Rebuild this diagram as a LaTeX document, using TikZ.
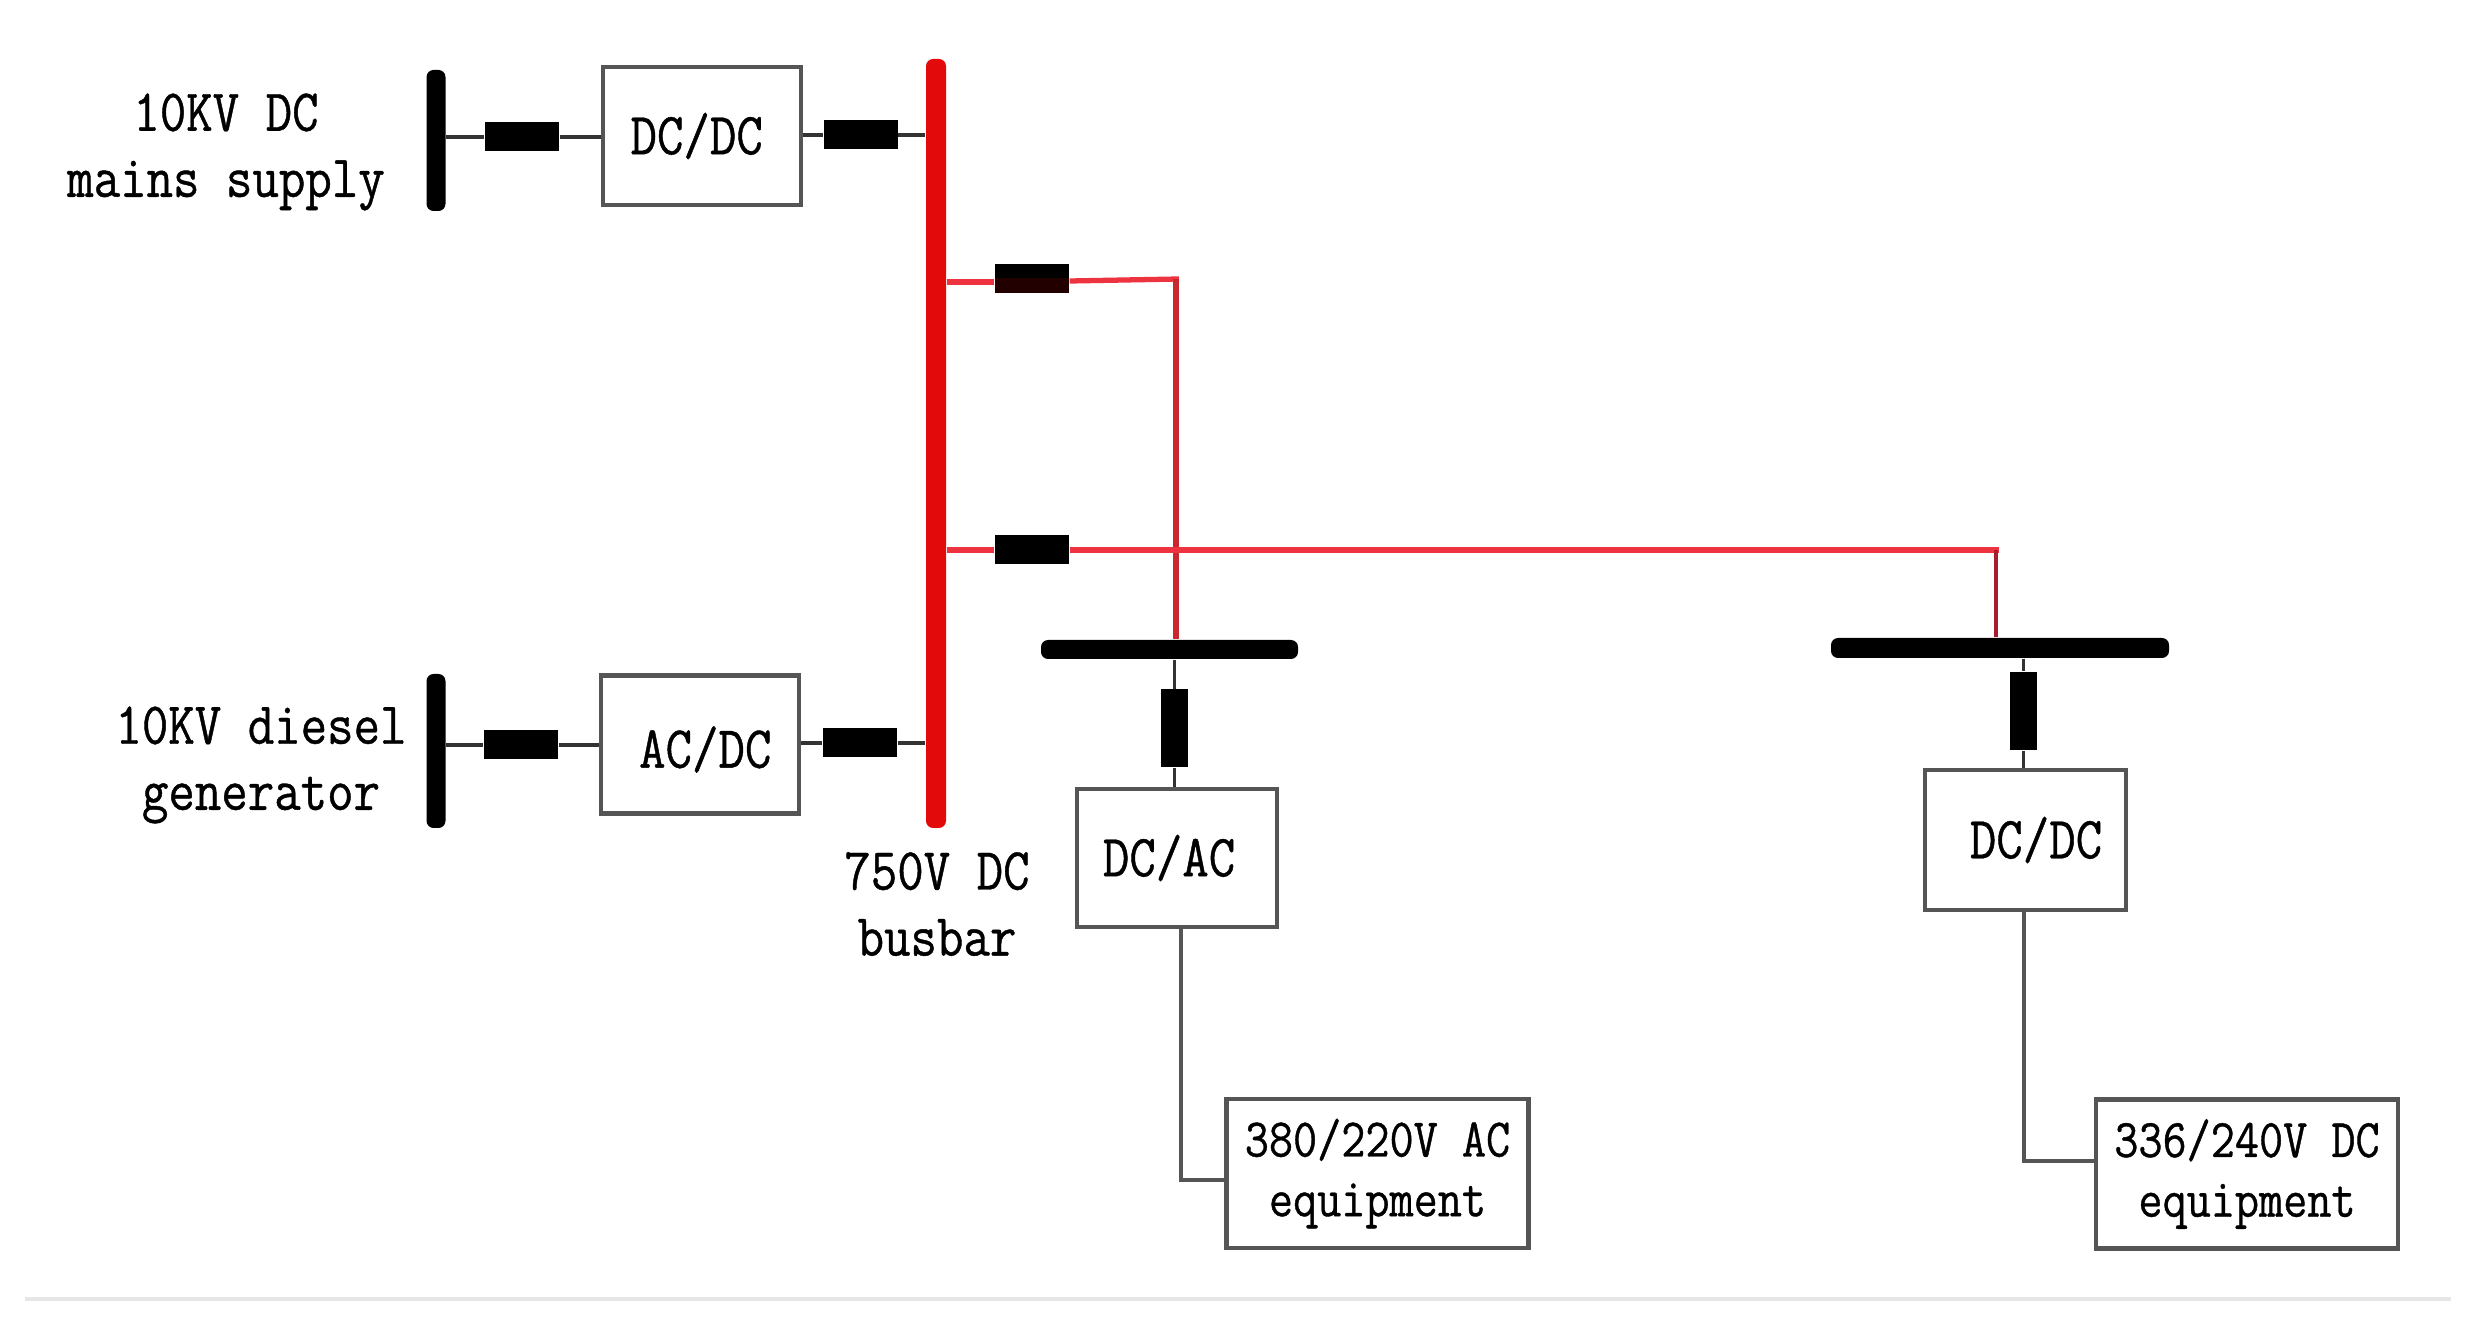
\documentclass[tikz,border=0pt]{standalone}
\usepackage{fontspec}
\newfontfamily\lblfont[FakeStretch=.86,FakeBold=.7]{Latin Modern Mono}
\definecolor{boxgray}{HTML}{555555}
\definecolor{wiregray}{HTML}{333333}
\definecolor{busred}{HTML}{E20A0A}
\definecolor{feedred}{HTML}{EE3340}
\definecolor{dropred}{HTML}{C82830}
\definecolor{tailred}{HTML}{A81C30}
\definecolor{rulegray}{HTML}{E6E6E6}
\tikzset{
 busbar/.style={fill=black,inner sep=0pt,rounded corners=2pt},
 breakerh/.style={fill=black,inner sep=0pt,minimum width=.74cm,minimum height=.29cm},
 breakerv/.style={fill=black,inner sep=0pt,minimum width=.27cm,minimum height=.78cm},
 conv/.style={draw=boxgray,line width=1.3pt,fill=white,inner sep=0pt,minimum width=1.98cm,minimum height=1.38cm,font=\lblfont\fontsize{17}{19}\selectfont},
 equip/.style={draw=boxgray,line width=1.4pt,fill=white,inner sep=0pt,minimum width=3.02cm,minimum height=1.49cm,align=center,font=\lblfont\fontsize{15.5}{17}\selectfont},
 lbl/.style={align=center,inner sep=0pt,font=\lblfont\fontsize{17}{18.8}\selectfont},
 wire/.style={wiregray,line width=1pt},
 feed/.style={feedred,line width=1.5pt},
}
\begin{document}
\begin{tikzpicture}

 \useasboundingbox (0,0) rectangle (24.84,13.3);

 % busbars
 \node[busbar,minimum width=.19cm,minimum height=1.41cm] (busA) at (4.36,11.895) {};
 \node[busbar,minimum width=.19cm,minimum height=1.54cm] (busB) at (4.36,5.79) {};
 \node[busbar,fill=busred,minimum width=.2cm,minimum height=7.69cm] (busR) at (9.36,8.865) {};
 \node[busbar,minimum width=2.57cm,minimum height=.19cm] (busC) at (11.695,6.805) {};
 \node[busbar,minimum width=3.38cm,minimum height=.2cm] (busD) at (20.0,6.82) {};

 % breakers
 \node[breakerh] (brkA) at (5.22,11.93) {};
 \node[breakerh] (brkB) at (8.605,11.95) {};
 \node[breakerh] (brkC) at (10.32,10.515) {};
 \node[breakerh] (brkD) at (10.32,7.8) {};
 \node[breakerh] (brkE) at (5.21,5.85) {};
 \node[breakerh] (brkF) at (8.6,5.87) {};
 \node[breakerv] (brkG) at (11.745,6.015) {};
 \node[breakerv] (brkH) at (20.235,6.19) {};
 \fill[black!70!red!45!black] ([xshift=.1mm,yshift=.1mm]brkC.south west) rectangle ([xshift=-.1mm,yshift=1.6mm]brkC.south east);

 % converters
 \node[conv] (boxA) at (7.02,11.94) {DC/DC\hspace*{3pt}};
 \node[conv] (boxB) at (7.0,5.855) {\raisebox{-1.4pt}[\height][\depth]{\hspace*{3pt}AC/DC}};
 \node[conv,minimum width=2cm] (boxC) at (11.77,4.72) {DC/AC\hspace*{4.5pt}};
 \node[conv,minimum width=2.01cm,minimum height=1.4cm] (boxD) at (20.255,4.9) {\hspace*{6pt}DC/DC};
 \node[equip] (eqA) at (13.775,1.565) {380/220V AC\\equipment};
 \node[equip] (eqB) at (22.47,1.56) {336/240V DC\\equipment};

 % labels
 \node[lbl] (lblA) at (2.26,11.78) {10KV DC\\mains supply};
 \node[lbl] (lblB) at (2.61,5.65) {10KV diesel\\generator};
 \node[lbl] (lblR) at (9.37,4.26) {750V DC\\busbar};

 % left feeders
 \draw[wire] (brkA.west -| busA.east) -- (brkA.west);
 \draw[wire] (brkA.east) -- (brkA.east -| boxA.west);
 \draw[wire] (brkB.west -| boxA.east) -- (brkB.west);
 \draw[wire] (brkB.east) -- (brkB.east -| busR.west);
 \draw[wire] (brkE.west -| busB.east) -- (brkE.west);
 \draw[wire] (brkE.east) -- (brkE.east -| boxB.west);
 \draw[wire] (brkF.west -| boxB.east) -- (brkF.west);
 \draw[wire] (brkF.east) -- (brkF.east -| busR.west);

 % red feeders
 \coordinate (kneeC) at (11.76,10.51);
 \coordinate (kneeD) at (19.96,7.8);
 \draw[feed] ([yshift=-.35mm]brkC.west -| busR.east) -- ([yshift=-.35mm]brkC.west);
 \draw[feed] ([yshift=-.25mm]brkC.east) -- ([xshift=.3mm]kneeC);
 \draw[dropred,line width=1.6pt] (kneeC) -- (kneeC |- busC.north);
 \draw[feed] (brkD.west -| busR.east) -- (brkD.west);
 \draw[feed] (brkD.east) -- ([xshift=.25mm]kneeD);
 \draw[tailred,line width=1.4pt] (kneeD) -- (kneeD |- busD.north);

 % down to the equipment
 \coordinate (kneeE) at (11.81,1.5);
 \coordinate (kneeF) at (20.24,1.69);
 \draw[wire] (brkG.north |- busC.south) -- (brkG.north);
 \draw[wire] (brkG.south) -- (brkG.south |- boxC.north);
 \draw[wire] (brkH.north |- busD.south) -- (brkH.north);
 \draw[wire] (brkH.south) -- (brkH.south |- boxD.north);
 \draw[boxgray,line width=1.2pt] (kneeE |- boxC.south) -- (kneeE) -- (kneeE -| eqA.west);
 \draw[boxgray,line width=1.2pt] (kneeF |- boxD.south) -- (kneeF) -- (kneeF -| eqB.west);

 % rule at the foot
 \coordinate (ruleL) at (.25,.31);
 \coordinate (ruleR) at (24.51,.31);
 \draw[rulegray,line width=.9pt] (ruleL) -- (ruleR);

\end{tikzpicture}
\end{document}
